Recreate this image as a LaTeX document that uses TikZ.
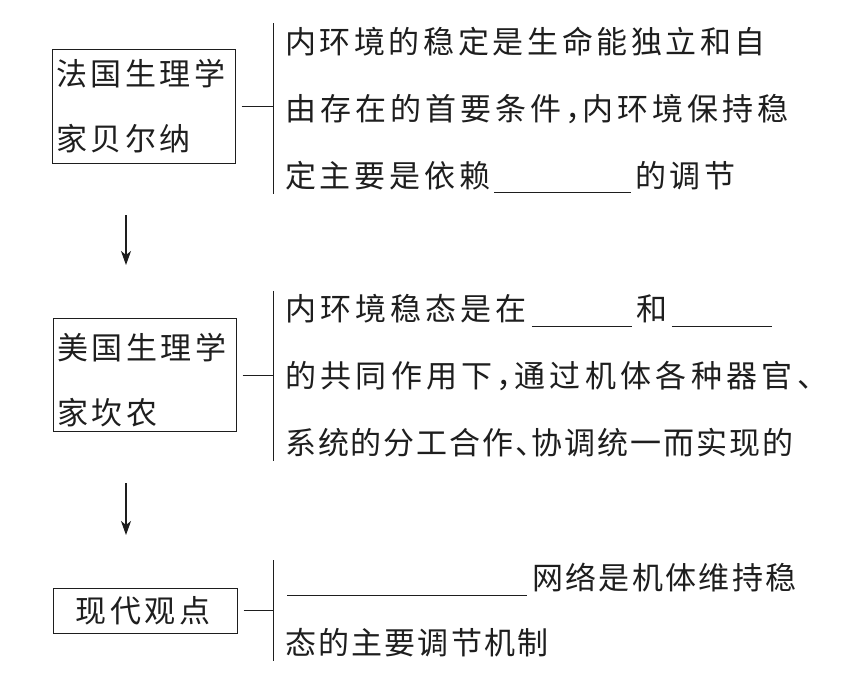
\documentclass[tikz,border=0pt]{standalone}
\usepackage{fontspec}
\usetikzlibrary{arrows.meta}
\newfontfamily\cjk{Noto Sans CJK SC}
\definecolor{ink}{RGB}{30,30,30}
\newlength\cjkpitch
\makeatletter
\def\cjk@end{\cjk@end@marker}
\def\cjk@ca{，}
\def\cjk@cb{、}
\def\cjk@iter#1{\ifx\cjk@end#1\else\cjk@put{#1}\expandafter\cjk@iter\fi}
\def\cjk@put#1{\def\cjk@tmp{#1}%
  \ifx\cjk@tmp\cjk@ca\makebox[.5\cjkpitch][l]{#1}%
  \else\ifx\cjk@tmp\cjk@cb\makebox[.5\cjkpitch][l]{#1}%
  \else\makebox[\cjkpitch][l]{#1}\fi\fi}
\newcommand\spc[2][34.8]{\setlength\cjkpitch{#1pt}\cjk@iter#2\cjk@end}
\makeatother
\newcommand\blank[1]{\smash{\rule[-6pt]{#1pt}{1pt}}}
\tikzset{
  box/.style={draw=ink, line width=1pt, inner xsep=4pt, inner ysep=0pt,
    minimum width=183pt, minimum height=113pt, text width=175pt, align=left,
    text=ink, font=\cjk\fontsize{31}{65}\selectfont},
  desc/.style={anchor=west, inner xsep=11.5pt, inner ysep=0pt, align=left,
    text=ink, font=\cjk\fontsize{31}{67}\selectfont},
  bar/.style={draw=ink, line width=1pt},
  link/.style={draw=ink, line width=1pt, shorten <=6pt},
  arr/.style={draw=ink, line width=1.1pt, -{Stealth[length=14pt,width=10pt,inset=4pt]}}
}
\begin{document}
\begin{tikzpicture}[x=1pt,y=-1pt]
\useasboundingbox[fill=white] (0,0) rectangle (842,690);
% boxes
\node[box] (b1) at (143.5,106.5) {\spc[34.6]{法国生理学}\\\spc[34.6]{家贝尔纳}};
\node[box] (b2) at (144.5,375) {\rule{0pt}{37pt}\spc[34.6]{美国生理学}\\\spc[34.6]{家坎农}};
\node[box, minimum width=184pt, minimum height=45pt, text width=176pt, align=center] (b3) at (145,610.5) {\spc[35]{现代观点}};
% descriptions
\node[desc, minimum height=170pt] (t1) at (273.5,108.5)
  {\spc[34.6]{内环境的稳定是生命能独立和自}\\
   \spc[35.0]{由存在的首要条件，内环境保持稳}\\
   \spc[34.8]{定主要是依赖}\blank{137}\hspace{4pt}\spc[34.6]{的调节}};
\node[desc, minimum height=170pt] (t2) at (273.5,376)
  {\spc[35.1]{内环境稳态是在}\hspace{1pt}\blank{100}\hspace{5pt}\spc[35]{和}\blank{100}\\
   \spc[35.3]{的共同作用下，通过机体各种器官、}\\
   \spc[32.9]{系统的分工合作、协调统一而实现的}};
\node[desc, minimum height=100pt, font=\cjk\fontsize{31}{65}\selectfont] (t3) at (273.5,610.5)
  {\hspace{2pt}\blank{240}\hspace{5pt}\spc[33.3]{网络是机体维持稳}\\
   \spc[33.2]{态的主要调节机制}};
% bars
\draw[bar] (t1.north west) -- (t1.south west);
\draw[bar] (t2.north west) -- (t2.south west);
\draw[bar] (t3.north west) -- (t3.south west);
% links
\draw[link] (b1.east) -- (b1.east -| t1.west);
\draw[link] (b2.east) -- (b2.east -| t2.west);
\draw[link] (b3.east) -- (b3.east -| t3.west);
% arrows
\coordinate (a1s) at (126,215);
\coordinate (a1e) at (126,265);
\coordinate (a2s) at (126,483);
\coordinate (a2e) at (126,535);
\draw[arr] (a1s) -- (a1e);
\draw[arr] (a2s) -- (a2e);
\end{tikzpicture}
\end{document}
